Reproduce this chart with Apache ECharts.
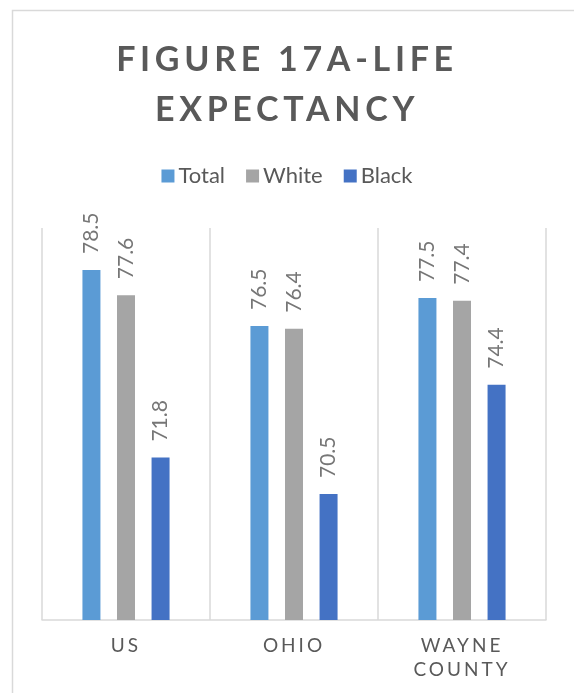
<!DOCTYPE html>
<html>
<head>
<meta charset="utf-8">
<script src="https://cdn.jsdelivr.net/npm/echarts@6/dist/echarts.min.js"></script>
<style>
  html, body { margin: 0; padding: 0; background: #fff; }
  #chart { width: 574px; height: 693px; }
</style>
</head>
<body>
<div id="chart"></div>
<script>
const categories = ["US", "OHIO", "WAYNE COUNTY"];
const totalValues = [78.5, 76.5, 77.5];
const whiteValues = [77.6, 76.4, 77.4];
const blackValues = [71.8, 70.5, 74.4];

// Excel-style letter spacing for the title and the category labels (keyed on font size)
const spacing = { "34px": "4.7px", "19px": "3px" };
const baseFillText = CanvasRenderingContext2D.prototype.fillText;
CanvasRenderingContext2D.prototype.fillText = function (text, x, y, maxWidth) {
  const m = this.font.match(/\d+px/);
  this.letterSpacing = (m && spacing[m[0]]) || "0px";
  return maxWidth === undefined
    ? baseFillText.call(this, text, x, y)
    : baseFillText.call(this, text, x, y, maxWidth);
};

const chart = echarts.init(document.getElementById("chart"), null, { renderer: "canvas" });

const barLabel = {
  show: true,
  position: "top",
  rotate: 90,
  align: "left",
  verticalAlign: "middle",
  distance: 16,
  color: "#767676",
  fontFamily: "Lato",
  fontSize: 21,
};

function makeSeries(name, data, color) {
  return {
    name,
    type: "bar",
    data,
    barWidth: 18,
    barGap: "92%",
    itemStyle: { color },
    label: barLabel,
  };
}

chart.setOption({
  animation: false,
  graphic: [
    {
      type: "rect",
      shape: { x: 12.5, y: 10.5, width: 700, height: 800 },
      style: { fill: "none", stroke: "#d9d9d9", lineWidth: 1.5 },
    },
  ],
  title: {
    text: "FIGURE 17A-LIFE\nEXPECTANCY",
    left: "center",
    top: 30,
    padding: [5, 5, 5, 29],
    textStyle: {
      color: "#595959",
      fontFamily: "Lato",
      fontWeight: "bold",
      fontSize: 34,
      lineHeight: 50,
    },
  },
  legend: {
    top: 160,
    left: "center",
    padding: [5, 5, 5, 38],
    icon: "rect",
    itemWidth: 13,
    itemHeight: 13,
    itemGap: 21,
    textStyle: { color: "#595959", fontFamily: "Lato", fontSize: 22, padding: [0, 0, 0, -1] },
  },
  grid: { left: 42, right: 28, top: 228, bottom: 73 },
  xAxis: {
    type: "category",
    data: categories,
    axisLine: { lineStyle: { color: "#d9d9d9", width: 1.5 } },
    axisTick: { show: false },
    splitLine: { show: true, lineStyle: { color: "#d9d9d9", width: 1.5 } },
    axisLabel: {
      color: "#595959",
      fontFamily: "Lato",
      fontSize: 19,
      lineHeight: 24,
      margin: 14,
      formatter: (v) => v.replace(" ", "\n"),
    },
  },
  yAxis: {
    type: "value",
    min: 66,
    max: 80,
    show: false,
    splitLine: { show: false },
  },
  series: [
    makeSeries("Total", totalValues, "#5b9bd5"),
    makeSeries("White", whiteValues, "#a5a5a5"),
    makeSeries("Black", blackValues, "#4472c4"),
  ],
});
</script>
</body>
</html>
